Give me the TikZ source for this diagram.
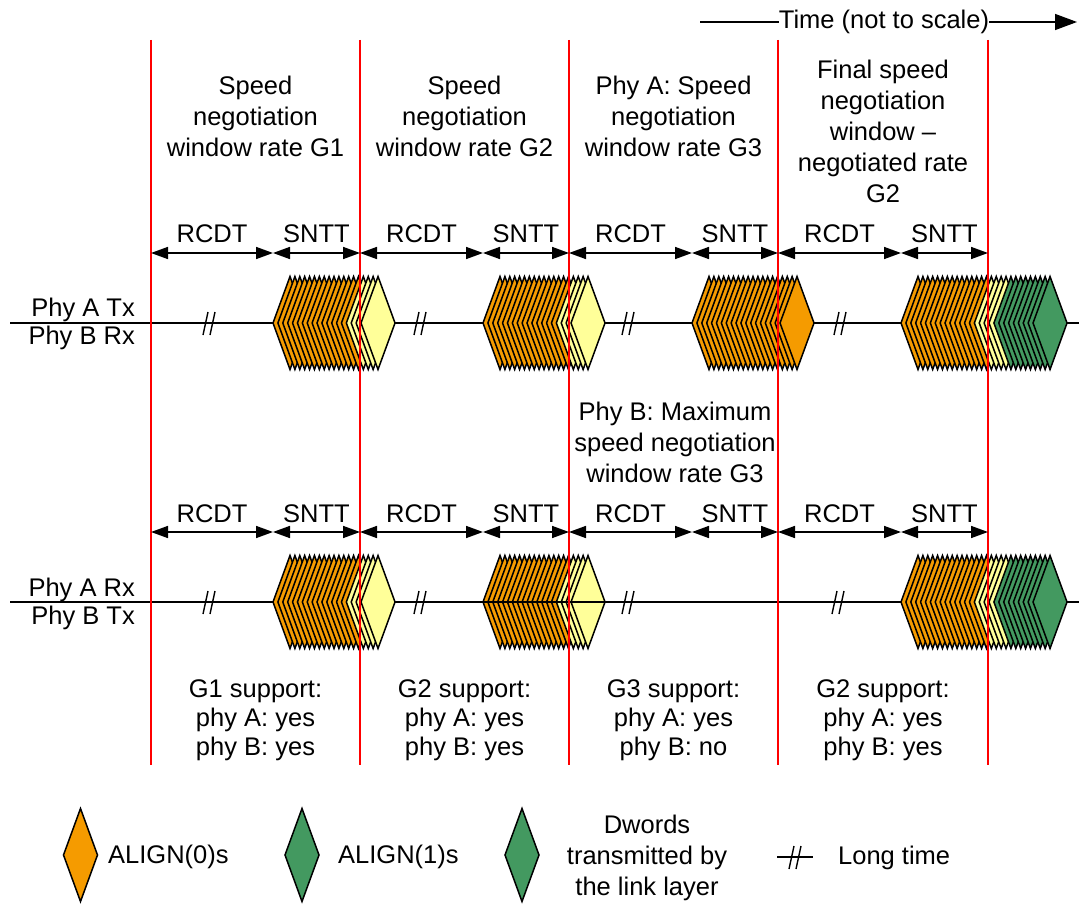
\documentclass[tikz,border=0pt]{standalone}
\usepackage{fontspec}
\setmainfont{Liberation Sans}
\usetikzlibrary{arrows.meta}
\definecolor{aorange}{RGB}{245,155,0}
\definecolor{ayellow}{RGB}{255,255,153}
\definecolor{agreen}{RGB}{67,153,96}
\definecolor{vred}{RGB}{255,0,0}
\newcommand{\mydmd}[3]{%
  \path[dia,fill=#3] (#1-17,#2) -- (#1,#2-46.5) -- (#1+17,#2) -- (#1,#2+46.5) -- cycle;}
\newcommand{\myclust}[5]{%
  \pgfmathtruncatemacro{\na}{#3}%
  \pgfmathtruncatemacro{\nb}{#3+#4}%
  \pgfmathtruncatemacro{\nc}{#3+#4+#5}%
  \foreach \k in {1,...,\nc}{%
    \pgfmathsetmacro{\cx}{#1+(\k-1)*4.89}%
    \ifnum\k>\nb \def\cc{agreen}\else\ifnum\k>\na \def\cc{ayellow}\else\def\cc{aorange}\fi\fi
    \mydmd{\cx}{#2}{\cc}%
  }}
\newcommand{\mybrk}[2]{%
  \draw[brkline] (#1-1,#2-11) -- (#1-6,#2+12);
  \draw[brkline] (#1+6,#2-11) -- (#1+1,#2+12);}
\begin{document}
\begin{tikzpicture}[x=1pt,y=-1pt,
  lbl/.style={font=\fontsize{25.5}{31}\selectfont, align=center, inner sep=0pt},
  sup/.style={font=\fontsize{25.5}{29}\selectfont, align=center, inner sep=0pt},
  dia/.style={draw=black, line width=1.5pt, line join=miter},
  dim/.style={line width=1.6pt, {Triangle[length=17pt,width=12pt]}-{Triangle[length=17pt,width=12pt]}},
  vline/.style={draw=vred, line width=1.8pt},
  sig/.style={line width=1.4pt},
  brkline/.style={line width=1.4pt}
]
\useasboundingbox (0,0) rectangle (1079,904);

% signal lines
\coordinate (la) at (10,323); \coordinate (ra) at (1079,323);
\coordinate (lb) at (10,602); \coordinate (rb) at (1079,602);
\draw[sig] (la) -- (ra);
\draw[sig] (lb) -- (rb);

% clusters upper
\myclust{290}{323}{15}{4}{0}
\myclust{500}{323}{15}{4}{0}
\myclust{709}{323}{19}{0}{0}
\myclust{918}{323}{15}{4}{9}
% clusters lower
\myclust{290}{602}{15}{4}{0}
\myclust{500}{602}{15}{4}{0}
\coordinate (ov1) at (483,602); \coordinate (ov2) at (604,602);
\draw[sig] (ov1) -- (ov2);
\myclust{918}{602}{15}{4}{9}

% breaks
\mybrk{209}{323}\mybrk{420}{323}\mybrk{628}{323}\mybrk{840}{323}
\mybrk{209}{602}\mybrk{420}{602}\mybrk{628}{602}\mybrk{838}{602}

% red lines
\foreach \x [count=\n] in {151,360,569,778,988}{
  \coordinate (rt\n) at (\x,40); \coordinate (rbt\n) at (\x,765);
  \draw[vline] (rt\n) -- (rbt\n);
}

% dimension arrows
\foreach \a/\b/\c [count=\n] in {151/273/360, 360/483/569, 569/692/778, 778/901/988}{
  \coordinate (ua\n) at (\a,253); \coordinate (ub\n) at (\b,253); \coordinate (uc\n) at (\c,253);
  \draw[dim] (ua\n) -- (ub\n) node[lbl, midway, yshift=19pt] (ur\n) {RCDT};
  \draw[dim] (ub\n) -- (uc\n) node[lbl, midway, yshift=19pt] (us\n) {SNTT};
  \coordinate (da\n) at (\a,532); \coordinate (db\n) at (\b,532); \coordinate (dc\n) at (\c,532);
  \draw[dim] (da\n) -- (db\n) node[lbl, midway, yshift=18pt] (dr\n) {RCDT};
  \draw[dim] (db\n) -- (dc\n) node[lbl, midway, yshift=18pt] (ds\n) {SNTT};
}

% time arrow
\node[lbl] (time) at (884,22) {Time (not to scale)};
\coordinate (tl) at (700,22); \coordinate (tr) at (1077,22);
\draw[sig] (tl) -- (time.west);
\draw[sig, -{Triangle[length=22pt,width=16pt]}] (time.east) -- (tr);

% window labels
\node[lbl] (w1) at (255.5,116) {Speed\\negotiation\\window rate G1};
\node[lbl] (w2) at (464.5,116) {Speed\\negotiation\\window rate G2};
\node[lbl] (w3) at (673.5,116) {Phy A: Speed\\negotiation\\window rate G3};
\node[lbl] (w4) at (883,131) {Final speed\\negotiation\\window --\\negotiated rate\\G2};
\node[lbl] (pb) at (675,442) {Phy B: Maximum\\speed negotiation\\window rate G3};

% phy labels
\node[lbl, anchor=base east] (pat) at (135,316) {Phy A Tx};
\node[lbl, anchor=base east] (pbr) at (135,344) {Phy B Rx};
\node[lbl, anchor=base east] (par) at (135,596) {Phy A Rx};
\node[lbl, anchor=base east] (pbt) at (135,624) {Phy B Tx};

% support labels
\node[sup] (s1) at (255.5,720) {G1 support:\\phy A: yes\\phy B: yes};
\node[sup] (s2) at (464.5,720) {G2 support:\\phy A: yes\\phy B: yes};
\node[sup] (s3) at (673.5,720) {G3 support:\\phy A: yes\\phy B: no};
\node[sup] (s4) at (883,720) {G2 support:\\phy A: yes\\phy B: yes};

% legend
\mydmd{80.5}{855}{aorange}
\node[lbl, anchor=base west] (l1) at (108,863) {ALIGN(0)s};
\mydmd{302}{855}{agreen}
\node[lbl, anchor=base west] (l2) at (338,863) {ALIGN(1)s};
\mydmd{522}{855}{agreen}
\node[lbl] (l3) at (647,858) {Dwords\\transmitted by\\the link layer};
\coordinate (lt1) at (777,857); \coordinate (lt2) at (813,857);
\draw[sig] (lt1) -- (lt2);
\mybrk{795}{857}
\node[lbl, anchor=base west] (l4) at (838,864) {Long time};
\end{tikzpicture}
\end{document}
